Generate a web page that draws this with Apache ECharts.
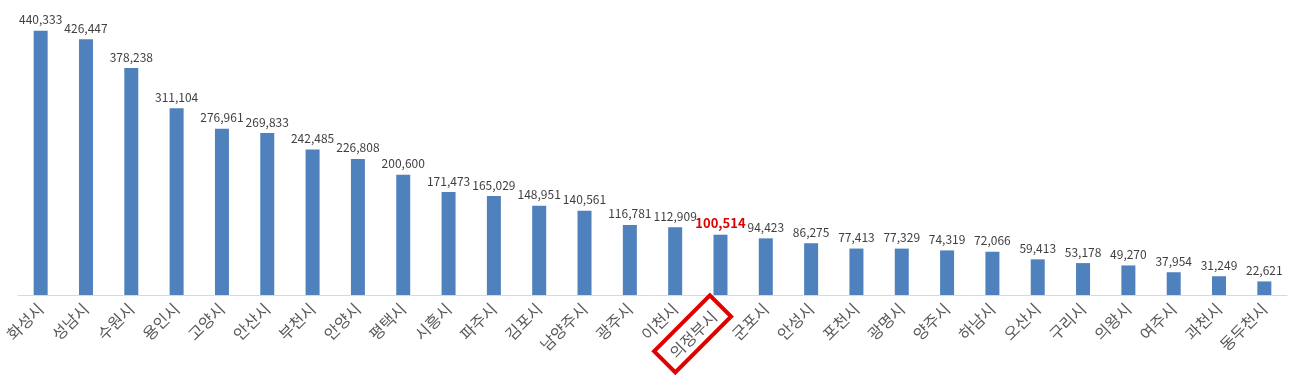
<!DOCTYPE html>
<html><head><meta charset="utf-8">
<script src="https://cdn.jsdelivr.net/npm/echarts@6/dist/echarts.min.js"></script>
<style>html,body{margin:0;padding:0;background:#fff}#c{width:1300px;height:379px}</style>
</head><body><div id="c"></div>
<script>
const categories = ['화성시','성남시','수원시','용인시','고양시','안산시','부천시','안양시','평택시','시흥시','파주시','김포시','남양주시','광주시','이천시','의정부시','군포시','안성시','포천시','광명시','양주시','하남시','오산시','구리시','의왕시','여주시','과천시','동두천시'];
const values = [440333,426447,378238,311104,276961,269833,242485,226808,200600,171473,165029,148951,140561,116781,112909,100514,94423,86275,77413,77329,74319,72066,59413,53178,49270,37954,31249,22621];
const highlight = '의정부시';
const fmt = v => v.toLocaleString('en-US');
const chart = echarts.init(document.getElementById('c'));
chart.setOption({
  animation:false,
  grid:{left:18,right:13,top:25,bottom:84},
  xAxis:{type:'category',data:categories,
    axisLine:{lineStyle:{color:'#d9d9d9',width:1}},axisTick:{show:false},
    axisLabel:{rotate:45,interval:0,margin:11,fontSize:16,color:'#595959',fontFamily:'Noto Sans CJK KR',
      formatter:(v)=> v===highlight ? '{h|'+v+'}' : v,
      rich:{h:{fontSize:16,color:'#595959',fontFamily:'Noto Sans CJK KR',borderColor:'#e00000',borderWidth:4,padding:[8,10,6,10]}}}},
  yAxis:{type:'value',min:0,max:450000,show:false,splitLine:{show:false}},
  series:[{type:'bar',data:values.map((v,i)=>categories[i]===highlight?{value:v,label:{color:'#e00000',fontWeight:'bold',fontSize:13}}:v),
    barWidth:14,itemStyle:{color:'#4f81bd'},
    label:{show:true,position:'top',distance:5,fontSize:12,color:'#404040',fontFamily:'Noto Sans CJK KR',formatter:p=>fmt(p.value)}}]
});
</script></body></html>
